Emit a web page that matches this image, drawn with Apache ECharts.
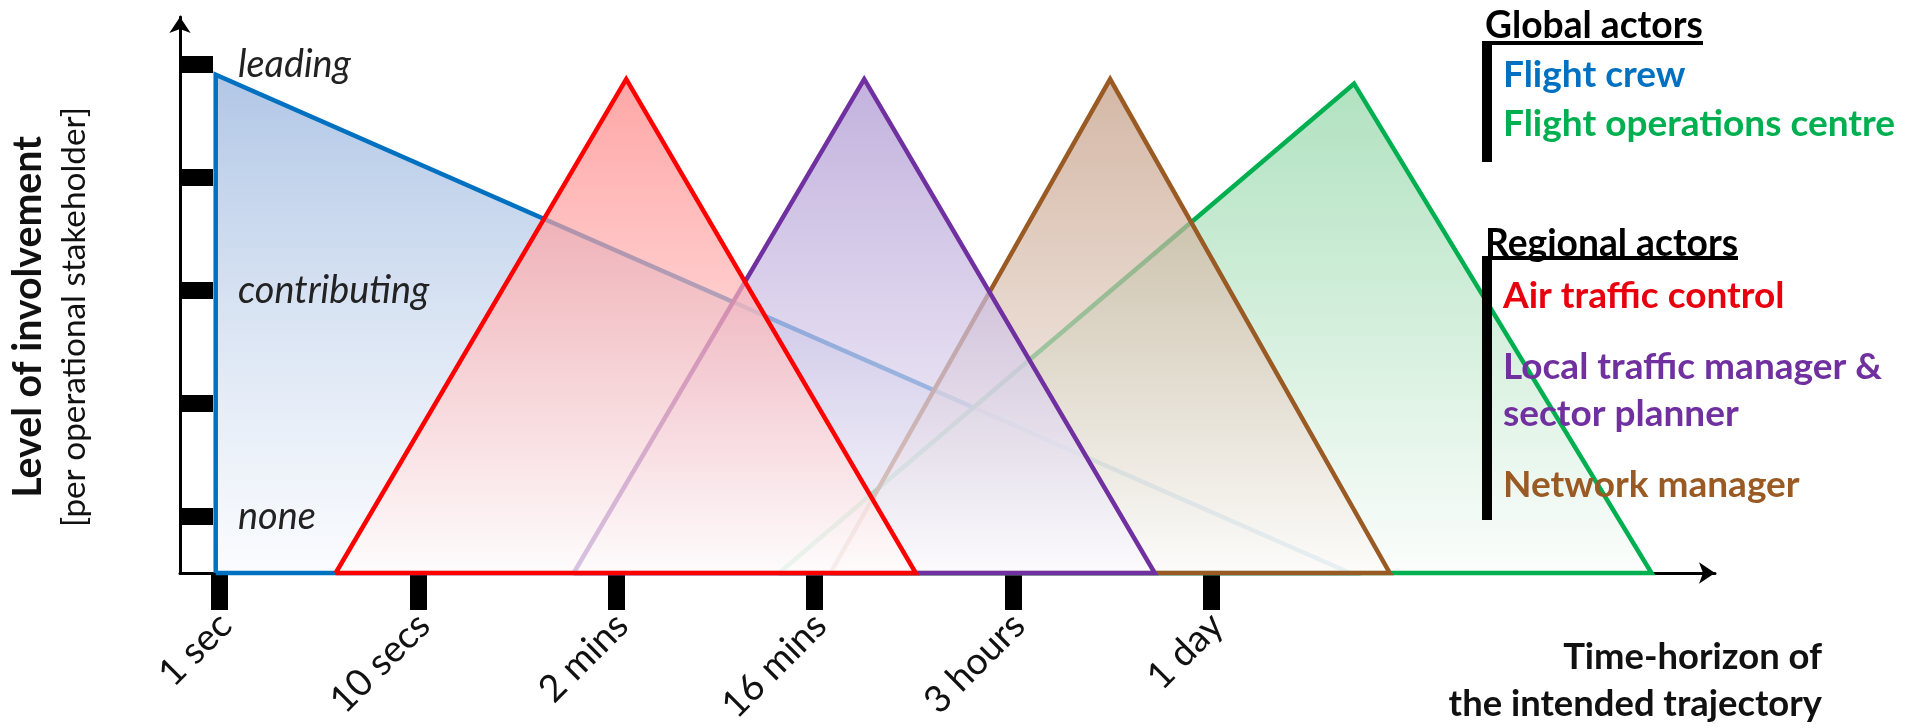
<!DOCTYPE html>
<html><head><meta charset="utf-8">
<script src="https://cdn.jsdelivr.net/npm/echarts@6/dist/echarts.min.js"></script>
<style>html,body{margin:0;padding:0;background:#fff}#c{width:1915px;height:728px}</style>
</head><body><div id="c"></div>
<script>
// ---- data ----
const timeTickValues = [0, 1, 2, 3, 4, 5];            // log10(seconds), approx
const timeTickLabels = ['1 sec', '10 secs', '2 mins', '16 mins', '3 hours', '1 day'];
const levelTickValues = [0.5, 1.5, 2.5, 3.5, 4.5];
const levelLabelValues = [0.5, 2.5, 4.5];
const levelLabels = ['none', 'contributing', 'leading'];

const actorNames = ['Flight crew', 'Flight operations centre', 'Network manager',
  'Local traffic manager & sector planner', 'Air traffic control'];
// outline vertices [time, involvement] of each actor's shape
const flightCrew   = [[-0.02, 0], [-0.02, 4.41], [5.7, 0], [-0.02, 0]];
const flightOps    = [[2.82, 0], [5.72, 4.33], [7.22, 0], [2.82, 0]];
const networkMgr   = [[3.08, 0], [4.49, 4.37], [5.9, 0], [3.08, 0]];
const localTraffic = [[1.785, 0], [3.25, 4.37], [4.715, 0], [1.785, 0]];
const airTraffic   = [[0.585, 0], [2.05, 4.37], [3.51, 0], [0.585, 0]];
const actorShapes = [flightCrew, flightOps, networkMgr, localTraffic, airTraffic];

// ---- styling ----
const lineColors = ['#0070C0', '#00B050', '#9A5A24', '#7030A0', '#FF0000'];
const fillTop = ['rgba(140,172,218,0.68)', 'rgba(140,212,162,0.68)', 'rgba(192,150,124,0.68)',
  'rgba(166,142,206,0.68)', 'rgba(255,125,125,0.68)'];
const fillBottom = ['rgba(245,248,253,0.5)', 'rgba(250,253,251,0.72)', 'rgba(253,251,249,0.72)',
  'rgba(251,250,254,0.72)', 'rgba(255,252,252,0.72)'];

const FAM = 'Lato';
const ctx = document.createElement('canvas').getContext('2d');
function fit(text, target, weight, style) {
  ctx.font = (style || 'normal') + ' ' + (weight || 'normal') + ' 100px ' + FAM;
  return Math.round(100 * target / ctx.measureText(text).width * 10) / 10;
}
const fsHead = fit('Regional actors', 253, 'bold');
const fsEntry = fit('Flight operations centre', 392, 'bold');
const fsXTitle = fit('Time-horizon of', 259, 'bold');
const fsYTitle = fit('Level of involvement', 362, 'bold');
const fsYSub = fit('[per operational stakeholder]', 420, 'normal');
const fsYLab = fit('leading', 113, 'normal', 'italic');
const fsXLab = fit('16 mins', 130, 'normal');

const series = actorShapes.map((pts, i) => ({
  name: actorNames[i],
  type: 'line',
  data: pts,
  symbol: 'none',
  showSymbol: false,
  clip: false,
  silent: true,
  lineStyle: { color: lineColors[i], width: 4.5, join: 'miter' },
  areaStyle: {
    opacity: 1,
    color: new echarts.graphic.LinearGradient(0, 0, 0, 1, [
      { offset: 0, color: fillTop[i] }, { offset: 1, color: fillBottom[i] }])
  },
  z: 2 + i
}));

function txt(text, x, y, size, color, opts) {
  opts = opts || {};
  return {
    type: 'text', x: x, y: y, rotation: opts.rotation || 0, z: 100,
    style: {
      text: text, fill: color, fontFamily: FAM, fontSize: size,
      fontWeight: opts.weight || 'bold', align: opts.align || 'left', verticalAlign: 'middle'
    }
  };
}
function bar(x, y, w, h) {
  return { type: 'rect', z: 100, shape: { x: x, y: y, width: w, height: h }, style: { fill: '#000' } };
}

const graphics = [
  txt('Global actors', 1485, 26, fsHead, '#000'),
  bar(1482, 41, 221, 4),
  bar(1482, 41, 10, 121),
  txt('Flight crew', 1503, 75, fsEntry, lineColors[0]),
  txt('Flight operations centre', 1503, 124, fsEntry, lineColors[1]),
  txt('Regional actors', 1485, 244, fsHead, '#000'),
  bar(1482, 256, 256, 4),
  bar(1482, 256, 10, 264),
  txt('Air traffic control', 1503, 296, fsEntry, '#E8000E'),
  txt('Local traffic manager &', 1503, 367, fsEntry, lineColors[3]),
  txt('sector planner', 1503, 414, fsEntry, lineColors[3]),
  txt('Network manager', 1503, 485, fsEntry, lineColors[2]),
  txt('Time-horizon of', 1822, 657, fsXTitle, '#111', { align: 'right' }),
  txt('the intended trajectory', 1822, 704, fsXTitle, '#111', { align: 'right' }),
  txt('Level of involvement', 28, 317, fsYTitle, '#111', { align: 'center', rotation: Math.PI / 2 }),
  txt('[per operational stakeholder]', 74, 317, fsYSub, '#111', { align: 'center', rotation: Math.PI / 2, weight: 'normal' })
];

const chart = echarts.init(document.getElementById('c'), null, { renderer: 'canvas' });
chart.setOption({
  animation: false,
  backgroundColor: '#fff',
  grid: { left: 180, right: 200, top: 17, bottom: 155, containLabel: false, outerBoundsMode: 'none' },
  xAxis: {
    type: 'value', min: -0.2, max: 7.54,
    axisLine: { onZero: true, symbol: ['none', 'arrow'], symbolSize: [16, 16],
      lineStyle: { color: '#000', width: 3 } },
    axisTick: { show: true, customValues: timeTickValues, length: 37,
      lineStyle: { color: '#000', width: 17 } },
    axisLabel: {
      customValues: timeTickValues, rotate: 45, margin: 52,
      padding: [0, -8, 0, 0],
      fontFamily: FAM, fontSize: fsXLab, color: '#111',
      formatter: v => timeTickLabels[timeTickValues.indexOf(v)] || ''
    },
    splitLine: { show: false }
  },
  yAxis: {
    type: 'value', min: 0, max: 4.92, z: 20,
    axisLine: { show: true, onZero: false, symbol: ['none', 'arrow'], symbolSize: [16, 16],
      lineStyle: { color: '#000', width: 3 } },
    axisTick: { show: true, inside: true, customValues: levelTickValues, length: 33,
      lineStyle: { color: '#000', width: 17 } },
    axisLabel: {
      inside: true, margin: 58, customValues: levelLabelValues,
      fontFamily: FAM, fontStyle: 'italic', fontSize: fsYLab, color: '#222',
      formatter: v => levelLabels[levelLabelValues.indexOf(v)] || ''
    },
    splitLine: { show: false }
  },
  series: series,
  graphic: graphics
});
</script>
</body></html>
